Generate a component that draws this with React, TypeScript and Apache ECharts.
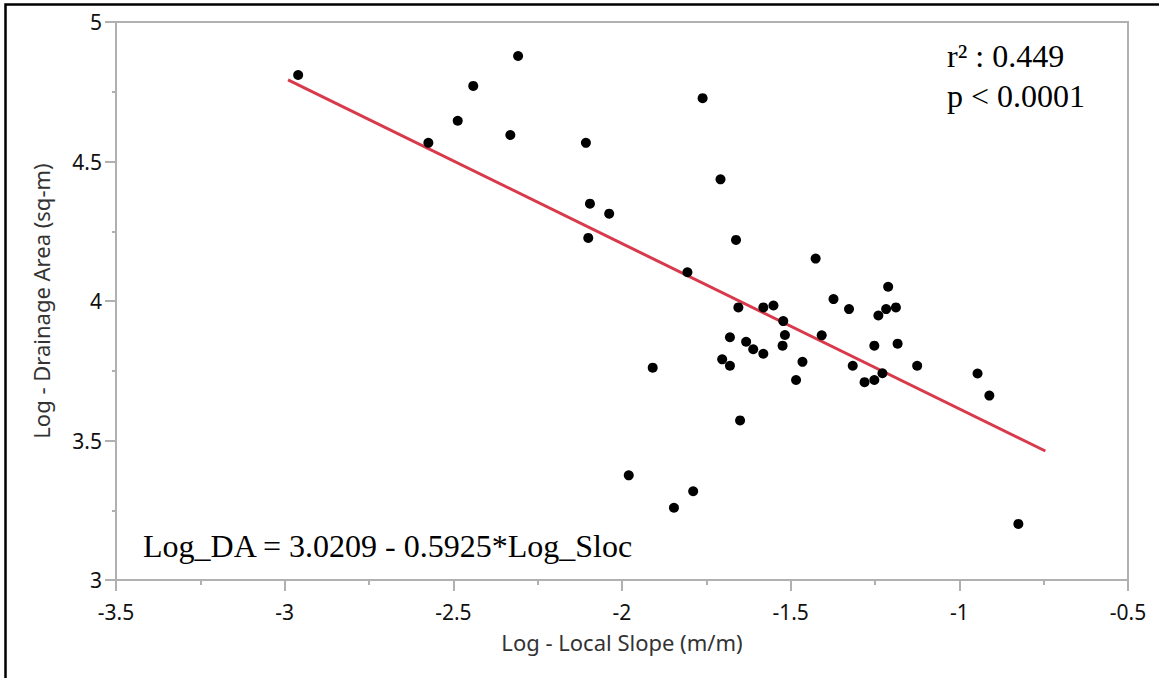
import React, { useEffect, useRef } from "react";
import * as echarts from "echarts";

const slopeX = [
  -2.96, -2.574, -2.487, -2.441, -2.331, -2.308, -2.107, -2.095, -2.038, -2.1,
  -1.761, -1.708, -1.662, -1.426, -1.806, -1.211, -1.373, -1.655, -1.581, -1.551,
  -1.327, -1.217, -1.188, -1.24, -1.522, -1.517, -1.408, -1.68, -1.632, -1.611,
  -1.581, -1.524, -1.252, -1.183, -1.703, -1.68, -1.465, -1.316, -1.125, -1.909,
  -1.484, -1.281, -1.252, -1.228, -0.946, -0.911, -1.65, -1.98, -1.789, -1.846,
  -0.825,
];
const areaY = [
  4.81, 4.567, 4.646, 4.771, 4.595, 4.878, 4.567, 4.349, 4.313, 4.226,
  4.727, 4.436, 4.219, 4.152, 4.103, 4.051, 4.007, 3.977, 3.977, 3.984,
  3.971, 3.971, 3.977, 3.948, 3.928, 3.878, 3.877, 3.87, 3.854, 3.827,
  3.811, 3.84, 3.84, 3.847, 3.791, 3.768, 3.782, 3.768, 3.768, 3.761,
  3.717, 3.709, 3.717, 3.741, 3.74, 3.661, 3.572, 3.375, 3.318, 3.259,
  3.201,
];
const fitIntercept = 3.0209;
const fitSlope = -0.5925;
const fitRangeX = [-2.99, -0.745];

const xAxisTitle = "Log - Local Slope (m/m)";
const yAxisTitle = "Log - Drainage Area (sq-m)";
const equationText = "Log_DA = 3.0209 - 0.5925*Log_Sloc";
const r2Text = "r² : 0.449";
const pText = "p < 0.0001";

export default function App() {
  const ref = useRef<HTMLDivElement>(null);
  useEffect(() => {
    if (!ref.current) return;
    const chart = echarts.init(ref.current, null, { renderer: "svg" });
    const points = slopeX.map((x, i) => [x, areaY[i]]);
    const fitLine = fitRangeX.map((x) => [x, fitIntercept + fitSlope * x]);
    const gray = "#b0b0b0";
    const labelFont = "Noto Sans";
    const serif = "Liberation Serif";
    chart.setOption({
      animation: false,
      backgroundColor: "#ffffff",
      grid: {
        left: 116,
        right: 31,
        top: 22,
        bottom: 98,
        show: true,
        borderColor: gray,
        borderWidth: 2,
        backgroundColor: "transparent",
      },
      xAxis: {
        type: "value",
        min: -3.5,
        max: -0.5,
        interval: 0.5,
        name: xAxisTitle,
        nameLocation: "middle",
        nameGap: 51,
        nameTextStyle: { fontFamily: labelFont, fontSize: 22, color: "#333" },
        axisLine: { show: true, lineStyle: { color: gray, width: 2 } },
        axisTick: { show: true, inside: false, length: 11, lineStyle: { color: gray, width: 2 } },
        minorTick: { show: true, splitNumber: 2, length: 5, lineStyle: { color: gray, width: 2 } },
        splitLine: { show: false },
        axisLabel: {
          margin: 21,
          fontFamily: labelFont,
          fontSize: 21,
          color: "#111",
          formatter: (v: number) => String(v),
        },
      },
      yAxis: {
        type: "value",
        min: 3,
        max: 5,
        interval: 0.5,
        name: yAxisTitle,
        nameLocation: "middle",
        nameGap: 64,
        nameTextStyle: { fontFamily: labelFont, fontSize: 22, color: "#333" },
        axisLine: { show: true, lineStyle: { color: gray, width: 2 } },
        axisTick: { show: true, inside: false, length: 11, lineStyle: { color: gray, width: 2 } },
        minorTick: { show: true, splitNumber: 2, length: 4, lineStyle: { color: gray, width: 2 } },
        splitLine: { show: false },
        axisLabel: {
          margin: 14,
          fontFamily: labelFont,
          fontSize: 21,
          color: "#111",
          formatter: (v: number) => String(v),
        },
      },
      series: [
        {
          type: "line",
          data: fitLine,
          symbol: "none",
          lineStyle: { color: "#d93a4b", width: 3 },
          z: 2,
        },
        {
          type: "scatter",
          data: points,
          symbol: "circle",
          symbolSize: 10,
          itemStyle: { color: "#000000", opacity: 1 },
          z: 3,
        },
      ],
      graphic: [
        {
          type: "rect",
          shape: { x: 5.5, y: 4.5, width: 1200, height: 700 },
          style: { fill: "none", stroke: "#000", lineWidth: 2.5 },
          silent: true,
        },
        {
          type: "text",
          x: 143,
          y: 546,
          style: {
            text: equationText,
            font: `32px "${serif}"`,
            fill: "#000",
            verticalAlign: "middle",
            align: "left",
          },
        },
        {
          type: "text",
          x: 947,
          y: 56,
          style: {
            text: r2Text,
            font: `32px "${serif}"`,
            fill: "#000",
            verticalAlign: "middle",
            align: "left",
          },
        },
        {
          type: "text",
          x: 947,
          y: 96,
          style: {
            text: pText,
            font: `32px "${serif}"`,
            fill: "#000",
            verticalAlign: "middle",
            align: "left",
          },
        },
      ],
    });
    return () => chart.dispose();
  }, []);
  return (
    <div
      ref={ref}
      style={{ position: "fixed", left: 0, top: 0, width: 1159, height: 678, background: "#fff" }}
    />
  );
}
